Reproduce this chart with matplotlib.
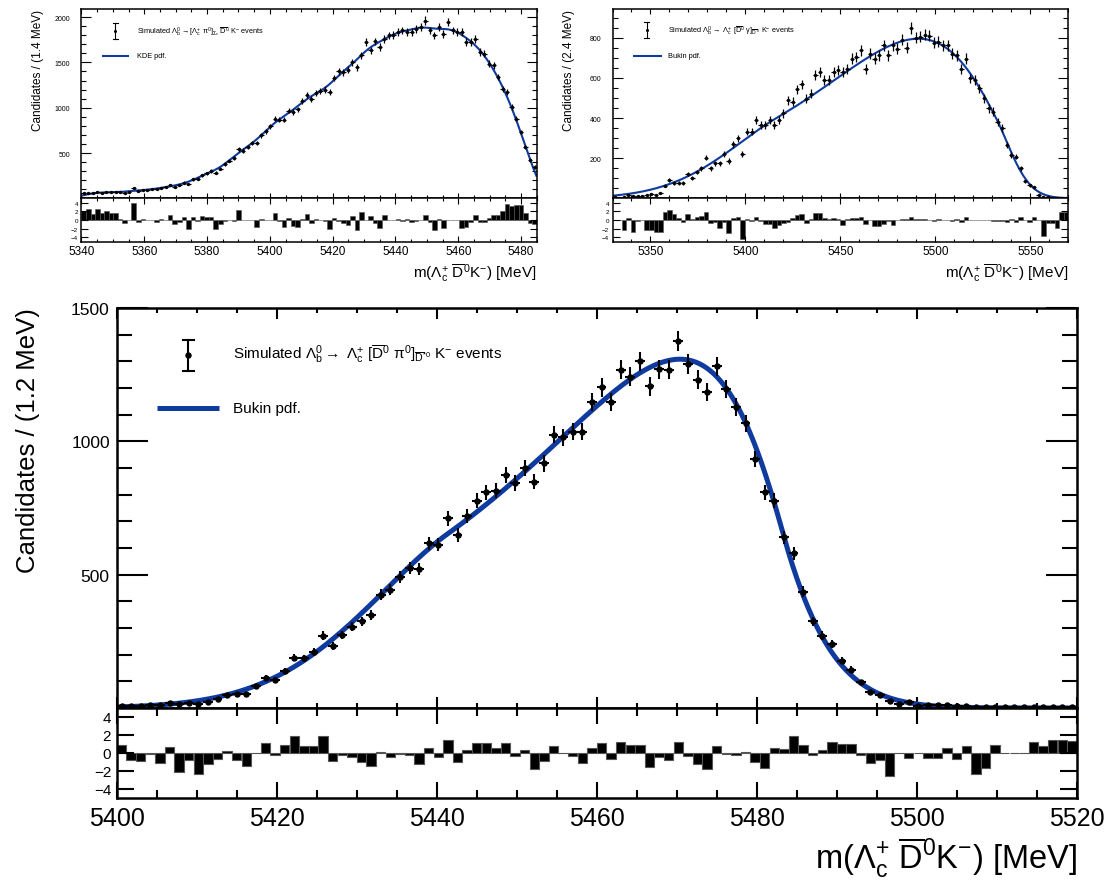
import numpy as np
import matplotlib
matplotlib.use("Agg")
import matplotlib.pyplot as plt
from matplotlib.ticker import MultipleLocator, FixedLocator, NullLocator

plt.rcParams["font.family"] = ["Liberation Sans", "DejaVu Sans"]
plt.rcParams["mathtext.fontset"] = "custom"
plt.rcParams["mathtext.rm"] = "Liberation Sans"
plt.rcParams["mathtext.it"] = "Liberation Sans:italic"
plt.rcParams["mathtext.bf"] = "Liberation Sans:bold"
plt.rcParams["mathtext.sf"] = "Liberation Sans"

# ---------------- data ----------------
# Lambda_b -> Lambda_c [D0 pi0]_D*0 K  (main panel), 100 bins of 1.2 MeV
main_range = (5400.0, 5520.0)
main_counts = [8, 9, 9, 11, 11, 19, 14, 17, 16, 21,
               33, 48, 52, 54, 81, 112, 106, 140, 189, 186,
               211, 271, 234, 274, 305, 325, 350, 424, 444, 492,
               524, 521, 617, 612, 711, 649, 721, 777, 809, 815,
               874, 844, 899, 849, 917, 1024, 1016, 1036, 1036, 1146,
               1202, 1146, 1269, 1242, 1300, 1206, 1271, 1269, 1375, 1290,
               1231, 1184, 1281, 1196, 1130, 1067, 934, 809, 777, 640,
               580, 436, 325, 271, 240, 178, 144, 96, 61, 50,
               27, 15, 21, 9, 11, 10, 11, 7, 8, 2,
               3, 5, 3, 3, 2, 4, 3, 4, 4, 3]
main_pulls = [0.93, -0.74, -0.89, -0.1, -1.1, 0.67, -2.1, -0.74, -2.3, -1.26,
              -0.63, 0.26, -0.74, -1.44, 0.05, 1.1, -0.26, 0.85, 1.93, 0.74,
              0.78, 1.9, -0.93, -0.26, -0.44, -1.0, -1.44, 0.1, -0.48, -0.07,
              -0.2, -1.26, 0.6, -0.48, 1.4, -1.0, 0.37, 1.07, 1.15, 0.52,
              1.07, -0.33, 0.3, -1.8, -0.85, 0.81, 0.02, -0.37, -1.07, 0.6,
              1.1, -0.7, 1.2, 0.84, 0.84, -1.5, -0.44, -0.73, 1.27, -0.33,
              -1.24, -1.8, 0.76, -0.07, -0.25, 0.1, -0.98, -1.64, 0.55, 0.4,
              1.85, 0.84, -0.2, 0.29, 1.2, 0.95, 0.95, -0.25, -1.16, -0.73,
              -2.5, 0.0, -0.55, 0.0, -0.55, -0.55, 0.58, -0.62, 0.76, -2.3,
              -1.64, 0.9, 0.0, 0.0, 0.0, 1.2, 0.76, 1.45, 1.45, 1.3]
# Bukin parameters: peak position, width, asymmetry, left/right tails, height
main_bukin = dict(xp=5470.4, sigp=17.79, xi=-0.4162, rho1=-1.85, rho2=-0.6)
main_height = 1308.0

# Lambda_b -> [Lambda_c pi0]_Sigma_c D0 K  (top left), 100 bins
tl_range = (5340.0, 5485.0)
tl_counts = [54, 59, 55, 65, 63, 68, 69, 72, 65, 60,
             70, 112, 76, 89, 93, 98, 101, 116, 121, 143,
             127, 145, 173, 155, 208, 216, 256, 276, 302, 282,
             329, 376, 416, 444, 539, 527, 569, 608, 609, 697,
             740, 793, 878, 869, 870, 969, 954, 981, 1072, 1140,
             1100, 1165, 1182, 1201, 1170, 1330, 1400, 1390, 1420, 1504,
             1449, 1577, 1724, 1632, 1732, 1669, 1761, 1798, 1805, 1835,
             1853, 1835, 1835, 1871, 1890, 1963, 1853, 1798, 1890, 1816,
             1945, 1853, 1835, 1835, 1724, 1724, 1761, 1614, 1596, 1485,
             1467, 1338, 1210, 1173, 1007, 879, 732, 566, 419, 346]
tl_pulls = [2.0, 2.5, 1.4, 2.5, 1.7, 2.1, 1.7, 1.7, 0.2, -0.7,
            0.0, 4.0, -0.4, 0.3, 0.1, 0.0, -0.4, 0.3, 0.0, 1.1,
            -1.0, -0.4, 0.6, -2.0, 0.6, -0.3, 0.9, 0.7, 0.7, -2.0,
            -1.0, -0.2, 0.1, -0.3, 2.3, 0.0, 0.1, 0.0, -1.6, 0.2,
            0.0, 0.1, 1.5, -0.3, -1.6, 0.4, -1.3, -1.6, 0.2, 1.3,
            -0.8, 0.3, 0.0, -0.2, -2.0, 0.5, -0.2, -0.6, -1.2, 1.0,
            -2.2, 1.9, 0.0, 1.0, -0.7, -1.9, 1.1, 0.0, 0.0, 0.2,
            -0.3, 0.3, -0.5, -0.3, 0.0, 1.2, -0.5, -2.2, 0.3, -1.8,
            0.0, 0.0, 0.0, -1.9, -1.5, -0.5, 1.2, -0.4, -0.4, 0.4,
            1.2, 1.2, 2.0, 3.7, 3.3, 3.5, 3.5, 1.5, -0.7, -1.0]
tl_kde_width = 3.0

# Lambda_b -> Lambda_c [D0 gamma]_D*0 K  (top right), 100 bins of 2.4 MeV
tr_range = (5330.0, 5570.0)
tr_counts = [4, 2, 8, 15, 10, 12, 9, 15, 22, 18,
             26, 63, 92, 76, 76, 76, 120, 100, 130, 150,
             203, 150, 175, 175, 223, 186, 269, 299, 221, 332,
             332, 390, 365, 365, 390, 365, 390, 423, 489, 481,
             542, 567, 497, 522, 613, 630, 588, 588, 630, 638,
             630, 646, 696, 704, 737, 646, 720, 696, 712, 762,
             712, 762, 745, 790, 750, 850, 800, 805, 815, 810,
             775, 780, 762, 762, 720, 712, 646, 696, 597, 589,
             547, 498, 448, 432, 382, 349, 266, 217, 208, 150,
             84, 65, 55, 18, 8, 6, 3, 1, 3, 2]
tr_pulls = [0.0, 0.0, -2.3, 0.5, -2.7, -0.2, 0.0, -2.4, -2.2, -2.8,
            -2.8, 1.8, 2.3, 1.4, 0.5, -0.4, 1.3, 0.3, 0.7, 0.9,
            1.9, -0.8, -0.4, -1.9, -0.4, -3.0, 0.4, 0.6, -4.3, 0.3,
            -0.3, 0.6, -0.3, -1.0, -0.9, -1.8, -1.2, -0.8, -0.4, 0.5,
            1.2, 1.3, -0.6, 0.3, 1.7, 1.7, 0.5, 0.2, 0.5, 0.3,
            -1.1, 0.3, 0.5, 0.5, 0.6, -1.0, 0.1, -1.3, -1.3, -1.0,
            -0.2, -1.1, 0.0, 0.3, 0.2, 0.6, 0.3, 0.3, 0.2, 0.1,
            -0.2, 0.2, 0.0, 0.1, -0.3, 0.3, -0.4, 0.7, 0.1, 0.0,
            -0.1, 0.0, 0.0, -0.3, -0.3, -0.2, -0.5, 0.3, -0.5, 0.6,
            0.0, -0.4, 0.6, 0.0, -3.6, -0.8, -0.8, -1.8, 1.8, 1.8]
tr_bukin = dict(xp=5491.0, sigp=49.3, xi=-0.3065, rho1=-1.7, rho2=-5.0)
tr_height = 795.0

BLUE = "#0f3a9e"

MASS_LABEL = r"m($\Lambda_{\mathrm{c}}^{+}\ \overline{\mathrm{D}}^{0}$K$^{-}$) [MeV]"
LEG_MAIN = (r"Simulated $\Lambda_{\mathrm{b}}^{0}\rightarrow\ \Lambda_{\mathrm{c}}^{+}\ "
            r"[\overline{\mathrm{D}}^{0}\ \mathrm{\pi}^{0}]_{\overline{\mathrm{D}}^{*0}}$ K$^{-}$ events")
LEG_TL = (r"Simulated $\Lambda_{\mathrm{b}}^{0}\rightarrow[\Lambda_{\mathrm{c}}^{+}\ \mathrm{\pi}^{0}]"
          r"_{\Sigma_{\mathrm{c}}}\ \overline{\mathrm{D}}^{0}$ K$^{-}$ events")
LEG_TR = (r"Simulated $\Lambda_{\mathrm{b}}^{0}\rightarrow\ \Lambda_{\mathrm{c}}^{+}\ "
          r"[\overline{\mathrm{D}}^{0}\ \mathrm{\gamma}]_{\overline{\mathrm{D}}^{*0}}$ K$^{-}$ events")


def bukin(x, xp, sigp, xi, rho1, rho2):
    """Bukin line shape (RooBukinPdf convention), unit height at xp."""
    x = np.asarray(x, float)
    ln2 = np.log(2.0)
    hp = sigp * 2.0 * np.sqrt(2.0 * ln2)
    r4 = np.sqrt(xi * xi + 1.0)
    r1 = xi / r4
    r5 = xi / np.log(r4 + xi) if abs(xi) > np.exp(-6.0) else 1.0
    x1 = xp + hp / 2.0 * (r1 - 1.0)
    x2 = xp + hp / 2.0 * (r1 + 1.0)
    out = np.empty_like(x)
    L = x < x1
    R = x >= x2
    C = ~L & ~R
    out[L] = (rho1 * ((x[L] - x1) / (xp - x1)) ** 2 - ln2
              + 4 * ln2 * (x[L] - x1) / hp * r5 * r4 / (r4 - xi) ** 2)
    arg = 1.0 + 4.0 * xi * r4 * (x[C] - xp) / hp
    out[C] = -ln2 * (np.log(arg) / np.log(1.0 + 2.0 * xi * (xi - r4))) ** 2
    out[R] = (rho2 * ((x[R] - x2) / (xp - x2)) ** 2 - ln2
              - 4 * ln2 * (x[R] - x2) / hp * r5 * r4 / (r4 + xi) ** 2)
    return np.exp(out)


def kde_curve(grid, centers, weights, width, bw, lo, hi):
    """Gaussian kernel estimate of the binned sample, normalised to the yield."""
    k = np.exp(-0.5 * ((grid[:, None] - centers[None, :]) / width) ** 2)
    dens = k @ weights
    fine = np.linspace(lo, hi, 4000)
    kf = np.exp(-0.5 * ((fine[:, None] - centers[None, :]) / width) ** 2)
    norm = np.trapezoid(kf @ weights, fine)
    return dens / norm * weights.sum() * bw


W, H = 1109, 887
fig = plt.figure(figsize=(W / 100, H / 100), dpi=100)


def rect(x0, y0, x1, y1):
    return [x0 / W, 1 - y1 / H, (x1 - x0) / W, (y1 - y0) / H]


def draw_panel(r_main, r_res, xr, counts, pulls, cx, cy, ylim, yticks, yminor,
               xmajor, xminor, s):
    counts = np.asarray(counts, float)
    n = len(counts)
    bw = (xr[1] - xr[0]) / n
    centers = xr[0] + bw * (np.arange(n) + 0.5)

    ax = fig.add_axes(rect(*r_main))
    axr = fig.add_axes(rect(*r_res))

    ax.plot(cx, cy, color=BLUE, lw=s["curve_lw"], zorder=2, solid_capstyle="butt")
    ax.errorbar(centers, counts, yerr=np.sqrt(counts), xerr=bw / 2, fmt="o",
                ms=s["ms"], color="black", elinewidth=s["elw"], capsize=0,
                zorder=3)
    ax.set_xlim(*xr)
    ax.set_ylim(*ylim)
    ax.yaxis.set_major_locator(FixedLocator(yticks))
    ax.yaxis.set_minor_locator(MultipleLocator(yminor))
    ax.xaxis.set_major_locator(MultipleLocator(xmajor))
    ax.xaxis.set_minor_locator(MultipleLocator(xminor))
    ax.tick_params(which="both", direction="in", top=True, right=True,
                   labelbottom=False, width=s["tick_w"])
    ax.tick_params(axis="y", which="major", length=s["ymaj"],
                   labelsize=s["ytick_fs"], pad=s["ypad"])
    ax.tick_params(axis="y", which="minor", length=s["ymin"])
    ax.tick_params(axis="x", which="major", length=s["xmaj"])
    ax.tick_params(axis="x", which="minor", length=s["xmin"])

    axr.bar(centers, pulls, width=bw, color="black", edgecolor="#555555",
            linewidth=s["bar_lw"])
    axr.set_xlim(*xr)
    axr.set_ylim(-5, 5)
    axr.yaxis.set_major_locator(FixedLocator([-4, -2, 0, 2, 4]))
    axr.yaxis.set_minor_locator(NullLocator())
    axr.xaxis.set_major_locator(MultipleLocator(xmajor))
    axr.xaxis.set_minor_locator(MultipleLocator(xminor))
    axr.tick_params(which="both", direction="in", top=True, right=True,
                    width=s["tick_w"])
    axr.tick_params(axis="y", which="major", length=s["rymaj"],
                    labelsize=s["rytick_fs"], pad=s["rypad"])
    axr.tick_params(axis="x", which="major", length=s["rxmaj"],
                    labelsize=s["xtick_fs"], pad=s["xpad"])
    axr.tick_params(axis="x", which="minor", length=s["rxmin"])

    for a in (ax, axr):
        for sp in a.spines.values():
            sp.set_linewidth(s["frame_lw"])
    return ax, axr


# ---------------- main panel ----------------
main_style = dict(curve_lw=3.6, ms=3.6, elw=1.5, tick_w=1.5, ymaj=22, ymin=11,
                  xmaj=7.7, xmin=3.6, ytick_fs=12.5, ypad=5, bar_lw=0.8,
                  rymaj=12, rytick_fs=11, rypad=4, rxmaj=11.5, rxmin=5.8,
                  xtick_fs=18, xpad=6, frame_lw=1.8)
mx = np.linspace(*main_range, 1200)
my = main_height * bukin(mx, **main_bukin)
draw_panel((116.7, 309, 1076.7, 709), (116.7, 709, 1076.7, 799), main_range,
           main_counts, main_pulls, mx, my, (0, 1500), [500, 1000, 1500], 100,
           20, 5, main_style)

# ---------------- top panels ----------------
top_style = dict(curve_lw=1.5, ms=1.4, elw=0.9, tick_w=0.8, ymaj=7, ymin=3.6,
                 xmaj=3.6, xmin=2.0, ytick_fs=5, ypad=8, bar_lw=0.4,
                 rymaj=5, rytick_fs=4.5, rypad=2.5, rxmaj=4.3, rxmin=2.2,
                 xtick_fs=8.5, xpad=2.5, frame_lw=1.1)

tl_c = np.asarray(tl_counts, float)
tl_bw = (tl_range[1] - tl_range[0]) / len(tl_c)
tl_centers = tl_range[0] + tl_bw * (np.arange(len(tl_c)) + 0.5)
tlx = np.linspace(*tl_range, 800)
tly = kde_curve(tlx, tl_centers, tl_c, tl_kde_width, tl_bw, *tl_range)
draw_panel((81.4, 10, 536.8, 199.3), (81.4, 199.3, 536.8, 242.7), tl_range,
           tl_counts, tl_pulls, tlx, tly, (0, 2090), [500, 1000, 1500, 2000], 100,
           20, 5, top_style)

trx = np.linspace(*tr_range, 800)
try_ = tr_height * bukin(trx, **tr_bukin)
draw_panel((612.5, 10, 1068.4, 199.3), (612.5, 199.3, 1068.4, 242.7), tr_range,
           tr_counts, tr_pulls, trx, try_, (0, 943), [200, 400, 600, 800], 50,
           50, 10, top_style)

# ---------------- labels and legends (pixel overlay) ----------------
ov = fig.add_axes([0, 0, 1, 1])
ov.set_xlim(0, W)
ov.set_ylim(H, 0)
ov.axis("off")

ov.text(28, 308, "Candidates / (1.2 MeV)", rotation=90, ha="center", va="top",
        fontsize=18.5)
ov.text(1076.7, 858, MASS_LABEL, ha="right", va="center", fontsize=23.5)
ov.text(37.5, 10, "Candidates / (1.4 MeV)", rotation=90, ha="center", va="top",
        fontsize=8.5)
ov.text(568.8, 10, "Candidates / (2.4 MeV)", rotation=90, ha="center", va="top",
        fontsize=8.5)
ov.text(536.8, 273, MASS_LABEL, ha="right", va="center", fontsize=11)
ov.text(1068.4, 273, MASS_LABEL, ha="right", va="center", fontsize=11)


def legend_marker(x, y, half, cap, lw, ms):
    ov.plot([x, x], [y - half, y + half], color="black", lw=lw)
    ov.plot([x - cap, x + cap], [y - half, y - half], color="black", lw=lw)
    ov.plot([x - cap, x + cap], [y + half, y + half], color="black", lw=lw)
    ov.plot([x], [y], "o", color="black", ms=ms)


legend_marker(188, 356, 15.5, 5.5, 1.5, 3.6)
ov.text(233, 354, LEG_MAIN, ha="left", va="center", fontsize=11)
ov.plot([157, 219], [409, 409], color=BLUE, lw=3.6, solid_capstyle="butt")
ov.text(233, 409, "Bukin pdf.", ha="left", va="center", fontsize=11)

legend_marker(115.4, 32, 8, 2.5, 0.8, 1.2)
ov.text(136.8, 31.5, LEG_TL, ha="left", va="center", fontsize=5.3)
ov.plot([101.8, 129.3], [57.3, 57.3], color=BLUE, lw=1.5, solid_capstyle="butt")
ov.text(136.8, 57, "KDE pdf.", ha="left", va="center", fontsize=5.3)

legend_marker(646.8, 31, 8, 2.5, 0.8, 1.2)
ov.text(667.5, 31, LEG_TR, ha="left", va="center", fontsize=5.3)
ov.plot([632.5, 661.5], [57.3, 57.3], color=BLUE, lw=1.5, solid_capstyle="butt")
ov.text(667.5, 57, "Bukin pdf.", ha="left", va="center", fontsize=5.3)

fig.savefig("out.png", dpi=100)
